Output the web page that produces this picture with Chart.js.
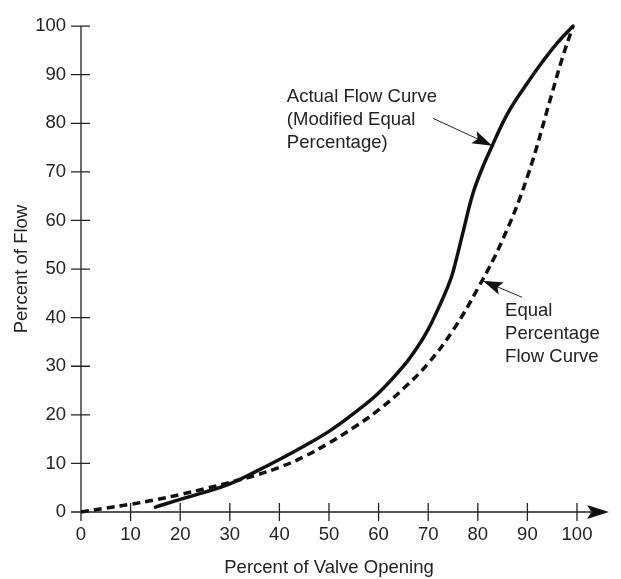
<!DOCTYPE html>
<html>
<head>
<meta charset="utf-8">
<script src="https://cdn.jsdelivr.net/npm/chart.js@4.4.1/dist/chart.umd.min.js"></script>
<style>
    html, body { margin: 0; padding: 0; background: #ffffff; }
    #wrap { width: 621px; height: 579px; }
</style>
</head>
<body>
<div id="wrap"><canvas id="flowChart"></canvas></div>
<script>
// Tick values
const xTicks = [0, 10, 20, 30, 40, 50, 60, 70, 80, 90, 100];
const yTicks = [0, 10, 20, 30, 40, 50, 60, 70, 80, 90, 100];

// Equal percentage flow curve (dashed)
const equalOpening = [0, 5, 10, 15, 20, 25, 30, 35, 40, 45, 50, 55, 60, 65, 70, 75, 80, 85, 90, 95, 97, 99.2];
const equalFlow = [0, 0.8, 1.6, 2.5, 3.6, 4.8, 6.1, 7.5, 9.2, 11.4, 14.2, 17.4, 21, 25.4, 30.6, 37.4, 46, 56, 69, 86.3, 93.3, 100];

// Actual flow curve, modified equal percentage (solid)
const actualOpening = [15, 20, 25, 30, 35, 40, 45, 50, 55, 60, 65, 68, 70, 72, 74, 75, 77, 79, 81, 83, 86, 90, 93, 96, 99.2];
const actualFlow = [1, 2.6, 4.1, 5.8, 8.2, 10.8, 13.6, 16.6, 20.3, 24.5, 30, 34.2, 37.6, 41.8, 46.5, 49.4, 57.5, 65.5, 71, 75.6, 82, 88.3, 92.6, 96.5, 100];

const textColor = '#222222';
const lineColor = '#111111';
const fontFamily = '"Liberation Sans", Arial, sans-serif';
const fontSize = 18.5;

// Callout labels (text anchored in data units)
const notes = [
    { lines: ['Actual Flow Curve', '(Modified Equal', 'Percentage)'], at: [41.5, 85.5], tail: [71, 81], tip: [82.9, 75.4] },
    { lines: ['Equal', 'Percentage', 'Flow Curve'], at: [85.5, 41.3], tail: [88.9, 44.2], tip: [81, 47.6] }
];

function toPoints(xs, ys) {
    return xs.map((v, i) => ({ x: v, y: ys[i] }));
}

function drawArrowHead(ctx, fromX, fromY, toX, toY, len, half) {
    const a = Math.atan2(toY - fromY, toX - fromX);
    const cos = Math.cos(a), sin = Math.sin(a);
    const bx = toX - len * cos, by = toY - len * sin;
    const nx = toX - len * 0.8 * cos, ny = toY - len * 0.8 * sin;
    ctx.beginPath();
    ctx.moveTo(toX, toY);
    ctx.lineTo(bx - half * sin, by + half * cos);
    ctx.lineTo(nx, ny);
    ctx.lineTo(bx + half * sin, by - half * cos);
    ctx.closePath();
    ctx.fill();
}

const axisDecor = {
    id: 'axisDecor',
    beforeDatasetsDraw(chart) {
        const { ctx, scales: { x, y } } = chart;
        const x0 = x.getPixelForValue(0);
        const y0 = y.getPixelForValue(0);
        const xEnd = x.getPixelForValue(100);
        ctx.save();
        ctx.strokeStyle = textColor;
        ctx.lineWidth = 1.3;
        ctx.beginPath();
        ctx.moveTo(x0, y.getPixelForValue(100));
        ctx.lineTo(x0, y0);
        ctx.moveTo(x0, y0);
        ctx.lineTo(xEnd + 14, y0);
        xTicks.forEach(v => {
            const px = x.getPixelForValue(v);
            ctx.moveTo(px, y0 - 9);
            ctx.lineTo(px, y0 + 9);
        });
        yTicks.forEach(v => {
            const py = y.getPixelForValue(v);
            ctx.moveTo(x0 - 10, py);
            ctx.lineTo(x0 + 9, py);
        });
        ctx.stroke();
        ctx.fillStyle = lineColor;
        drawArrowHead(ctx, xEnd, y0, xEnd + 32, y0, 22, 7);
        ctx.restore();
    },
    afterDatasetsDraw(chart) {
        const { ctx, scales: { x, y } } = chart;
        ctx.save();
        ctx.fillStyle = textColor;
        ctx.font = fontSize + 'px ' + fontFamily;
        ctx.textAlign = 'left';
        ctx.textBaseline = 'middle';
        notes.forEach(n => {
            const tx = x.getPixelForValue(n.at[0]);
            const ty = y.getPixelForValue(n.at[1]);
            n.lines.forEach((line, i) => ctx.fillText(line, tx, ty + i * 23));
            const ax = x.getPixelForValue(n.tail[0]), ay = y.getPixelForValue(n.tail[1]);
            const bx = x.getPixelForValue(n.tip[0]), by = y.getPixelForValue(n.tip[1]);
            ctx.strokeStyle = textColor;
            ctx.lineWidth = 1;
            ctx.beginPath();
            ctx.moveTo(ax, ay);
            ctx.lineTo(bx, by);
            ctx.stroke();
            ctx.fillStyle = lineColor;
            drawArrowHead(ctx, ax, ay, bx, by, 20, 6.5);
            ctx.fillStyle = textColor;
        });
        ctx.restore();
    }
};

const tickFont = { family: fontFamily, size: fontSize };

new Chart(document.getElementById('flowChart').getContext('2d'), {
    type: 'line',
    data: {
        datasets: [{
            label: 'Equal Percentage Flow Curve',
            data: toPoints(equalOpening, equalFlow),
            borderColor: lineColor,
            borderWidth: 3.5,
            borderDash: [8, 5],
            borderCapStyle: 'butt',
            tension: 0.4,
            pointRadius: 0,
            fill: false,
            clip: false
        }, {
            label: 'Actual Flow Curve',
            data: toPoints(actualOpening, actualFlow),
            borderColor: lineColor,
            borderWidth: 3.5,
            borderCapStyle: 'round',
            tension: 0.4,
            pointRadius: 0,
            fill: false,
            clip: false
        }]
    },
    options: {
        responsive: true,
        maintainAspectRatio: false,
        animation: false,
        layout: { padding: { top: 16, right: 44, left: 0, bottom: 0 } },
        plugins: {
            legend: { display: false },
            tooltip: { enabled: false }
        },
        scales: {
            x: {
                type: 'linear',
                min: 0,
                max: 100,
                grid: { display: false, drawTicks: false },
                border: { display: false },
                ticks: { stepSize: 10, padding: 12, color: textColor, font: tickFont, maxRotation: 0 },
                title: {
                    display: true,
                    text: 'Percent of Valve Opening',
                    color: textColor,
                    font: tickFont,
                    padding: { top: 0, bottom: 0 }
                },
                afterFit: scale => { scale.height = 67; }
            },
            y: {
                type: 'linear',
                min: 0,
                max: 100,
                grid: { display: false, drawTicks: false },
                border: { display: false },
                ticks: { stepSize: 10, padding: 15, color: textColor, font: tickFont },
                title: {
                    display: true,
                    text: 'Percent of Flow',
                    color: textColor,
                    font: tickFont,
                    padding: { top: 11, bottom: 0 }
                },
                afterFit: scale => { scale.width = 81; }
            }
        }
    },
    plugins: [axisDecor]
});
</script>
</body>
</html>
